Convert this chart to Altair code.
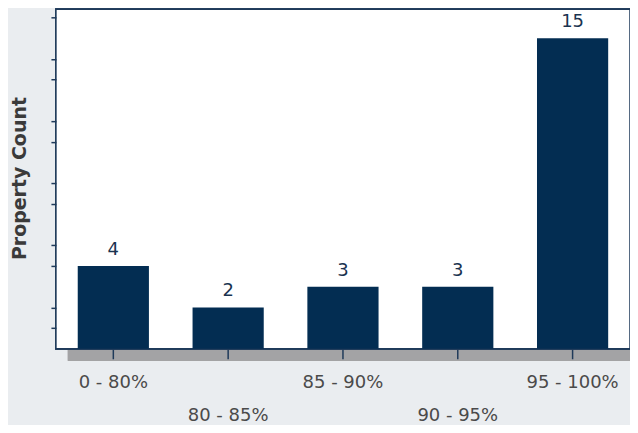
import altair as alt
import pandas as pd

categories = ["0 - 80%", "80 - 85%", "85 - 90%", "90 - 95%", "95 - 100%"]
counts = [4, 2, 3, 3, 15]
y_ticks = [1, 2, 4, 5, 7, 8, 10, 11, 13, 14, 16]
lower_row = ["80 - 85%", "90 - 95%"]

df = pd.DataFrame({"range": categories, "count": counts})

W, H = 575, 340
NAVY = "#032d52"

x_enc = alt.X(
    "range:N", sort=categories, title=None,
    scale=alt.Scale(paddingInner=0.38, paddingOuter=0.19),
    axis=alt.Axis(
        labelAngle=0, labelFont="DejaVu Sans", labelFontSize=18, labelColor="#4a4a4a",
        labelPadding=15, labelLineHeight=33, labelBaseline="top",
        labelExpr="indexof(" + str(lower_row) + ", datum.value) >= 0 ? ['', datum.label] : datum.label",
        tickColor="#1f3a5a", tickSize=10, tickWidth=1.5, domain=False, zindex=2,
    ),
)
y_enc = alt.Y(
    "count:Q", title="Property Count",
    scale=alt.Scale(domain=[0, 16.4], nice=False),
    axis=alt.Axis(
        values=y_ticks, tickCount=40, labels=False, grid=False, domain=False,
        tickColor="#1f3a5a", tickSize=5, tickWidth=1.5,
        titleFont="DejaVu Sans", titleFontSize=19, titleFontWeight="bold", titleColor="#3a3a3a",
        titleX=-36, titleY=169, titleBaseline="middle", titleAngle=-90, zindex=2,
    ),
)

shadow = alt.Chart(df).mark_rect(color="#a3a3a5").encode(
    x=alt.value(12), x2=alt.value(W + 12), y=alt.value(12), y2=alt.value(H + 12)
)
panel = alt.Chart(df).mark_rect(fill="white", stroke="#1f3a5a", strokeWidth=1.5).encode(
    x=alt.value(0), x2=alt.value(W), y=alt.value(0), y2=alt.value(H)
)
bars = alt.Chart(df).mark_bar(color=NAVY).encode(x=x_enc, y=y_enc)
labels = alt.Chart(df).mark_text(
    dy=-7, baseline="bottom", font="DejaVu Sans", fontSize=18, color="#1a3350"
).encode(x=alt.X("range:N", sort=categories), y="count:Q", text="count:Q")

chart = alt.layer(shadow, panel, bars, labels).properties(
    width=W, height=H, background="#eaedf0",
    autosize=alt.AutoSizeParams(type="none"),
    padding={"left": 48, "top": 1, "right": 0, "bottom": 76},
).configure_view(stroke=None, fill=None)

chart.save("out.html", embed_options={"renderer": "svg", "actions": False})
